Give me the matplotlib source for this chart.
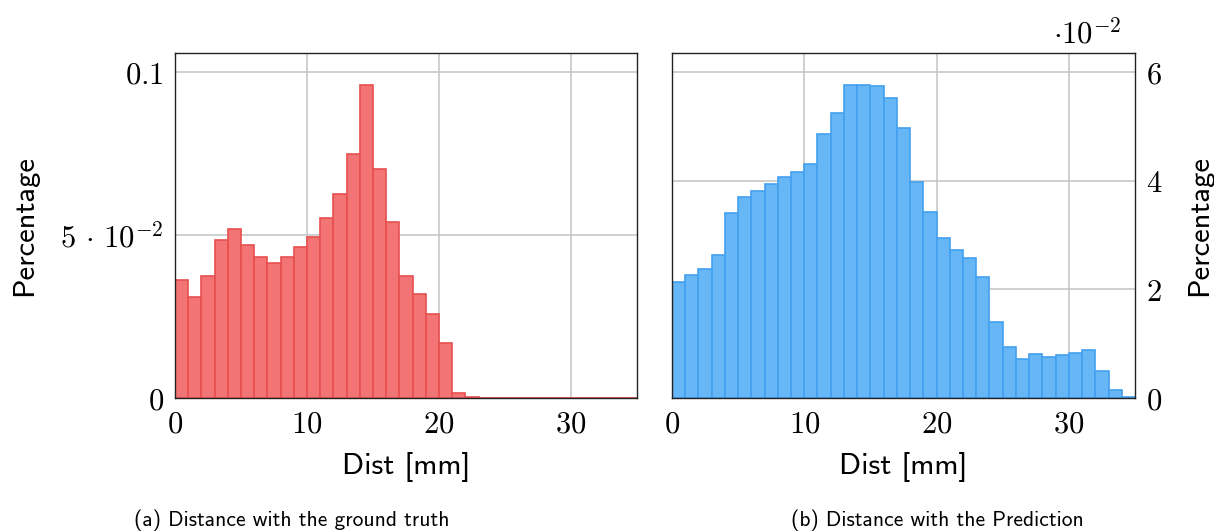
import os
import numpy as np
import matplotlib
matplotlib.use('Agg')
import matplotlib.pyplot as plt
from matplotlib.font_manager import FontProperties

plt.rcParams['mathtext.fontset'] = 'cm'

# bin edges: 1 mm wide bins from 0 to 35
bin_left = list(range(35))

gt_values = [0.0361, 0.0309, 0.0375, 0.0484, 0.0519, 0.0469, 0.0433, 0.0415, 0.0433, 0.0463,
             0.0494, 0.0551, 0.0626, 0.0747, 0.0961, 0.0702, 0.0539, 0.0375, 0.0320, 0.0259,
             0.0168, 0.0016, 0.0003, 0.0, 0.0, 0.0, 0.0, 0.0, 0.0, 0.0,
             0.0, 0.0, 0.0, 0.0, 0.0]

pred_values = [0.02130, 0.02271, 0.02380, 0.02631, 0.03406, 0.03693, 0.03803, 0.03937, 0.04059, 0.04157,
               0.04303, 0.04852, 0.05237, 0.05768, 0.05756, 0.05738, 0.05530, 0.04975, 0.03974, 0.03418,
               0.02948, 0.02728, 0.02576, 0.02222, 0.01404, 0.00940, 0.00714, 0.00818, 0.00751, 0.00787,
               0.00836, 0.00879, 0.00488, 0.00146, 0.00018]

x_ticks = [0, 10, 20, 30]
left_y_ticks = [0, 0.05, 0.1]
left_y_labels = [r'$0$', r'$5\,\cdot\,10^{-2}$', r'$0.1$']
right_y_ticks = [0, 0.02, 0.04, 0.06]
right_y_labels = [r'$0$', r'$2$', r'$4$', r'$6$']

sans_path = os.path.join(matplotlib.get_data_path(), 'fonts', 'ttf', 'cmss10.ttf')
label_font = FontProperties(fname=sans_path, size=22)
caption_font = FontProperties(fname=sans_path, size=15.5)

fig = plt.figure(figsize=(12.14, 5.31), dpi=100)
ax1 = fig.add_axes([0.1442, 0.2505, 0.3805, 0.6497])
ax2 = fig.add_axes([0.5535, 0.2505, 0.3814, 0.6497])


def style_axes(ax):
    ax.set_xlim(0, 35)
    ax.set_xticks(x_ticks)
    ax.set_xticklabels([r'$%d$' % t for t in x_ticks])
    ax.grid(True, color='#c4c4c4', linewidth=1.1)
    ax.set_axisbelow(True)
    ax.tick_params(length=0, labelsize=22)
    ax.tick_params(axis='x', pad=8)
    ax.tick_params(axis='y', pad=8)
    for s in ax.spines.values():
        s.set_linewidth(1.0)
        s.set_color('#222222')
    ax.set_xlabel('Dist [mm]', fontproperties=label_font, labelpad=10)


ax1.bar(bin_left, gt_values, width=1, align='edge', color='#f27474', edgecolor='#e84f4f', linewidth=1.2)
style_axes(ax1)
ax1.set_ylim(0, 0.1058)
ax1.set_yticks(left_y_ticks)
ax1.set_yticklabels(left_y_labels)
ax1.set_ylabel('Percentage', fontproperties=label_font, labelpad=16)

ax2.bar(bin_left, pred_values, width=1, align='edge', color='#67b6f5', edgecolor='#43a1f0', linewidth=1.2)
style_axes(ax2)
ax2.set_ylim(0, 0.0635)
ax2.set_yticks(right_y_ticks)
ax2.set_yticklabels(right_y_labels)
ax2.yaxis.tick_right()
ax2.yaxis.set_label_position('right')
ax2.set_ylabel('Percentage', fontproperties=label_font, labelpad=17)
ax2.text(0.972, 1.029, r'$\cdot10^{-2}$', transform=ax2.transAxes, ha='right', va='baseline', fontsize=22)

fig.text(0.2405, 0.01, '(a) Distance with the ground truth', fontproperties=caption_font, ha='center', va='baseline')
fig.text(0.7718, 0.01, '(b) Distance with the Prediction', fontproperties=caption_font, ha='center', va='baseline')

fig.savefig('out.png', dpi=100)
